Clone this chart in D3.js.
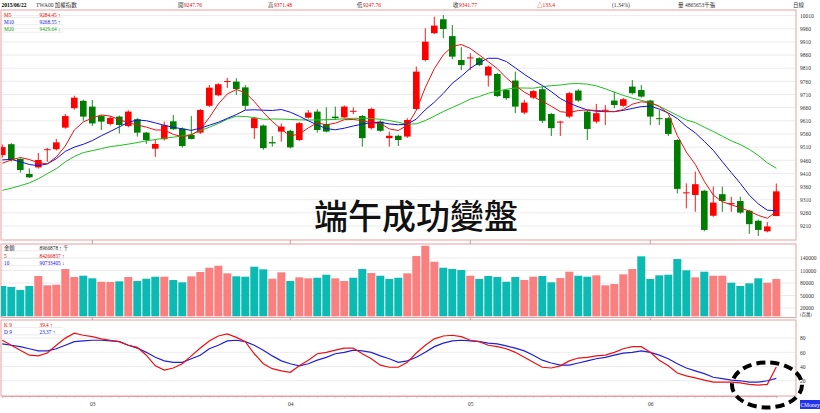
<!DOCTYPE html>
<html><head><meta charset="utf-8">
<script src="https://cdn.jsdelivr.net/npm/d3@7"></script>
<style>
body{margin:0;background:#fff}
svg{display:block}
text{font-family:"Liberation Serif","Noto Sans CJK TC",serif}
</style>
</head><body>
<svg id="c" width="820" height="413"></svg>
<script>
// ---------- DATA ----------
const opens=[9480,9521,9465,9408,9433,9500,9502,9584,9658,9686,9664,9628,9598,9626,9590,9616,9565,9504,9540,9608,9580,9556,9565,9667,9707,9760,9759,9737,9582,9592,9529,9569,9572,9537,9622,9645,9598,9626,9623,9647,9628,9582,9607,9544,9553,9550,9655,9841,9943,9996,9932,9841,9850,9848,9782,9788,9727,9763,9641,9698,9730,9636,9605,9626,9725,9645,9607,9651,9687,9667,9740,9727,9687,9620,9620,9537,9336,9328,9344,9249,9331,9296,9305,9268,9230,9190,9247.76];
const highs=[9520,9525,9468,9429,9488,9507,9541,9636,9705,9690,9689,9632,9628,9630,9650,9620,9568,9537,9607,9632,9585,9628,9655,9746,9753,9773,9772,9746,9625,9596,9552,9600,9576,9605,9651,9654,9661,9664,9668,9661,9632,9660,9612,9569,9557,9620,9816,9962,10006,10012,9974,9890,9867,9852,9820,9792,9731,9797,9690,9727,9740,9640,9610,9720,9730,9650,9674,9670,9721,9697,9765,9746,9690,9651,9624,9540,9372,9417,9348,9360,9360,9321,9321,9272,9234,9225,9371.48];
const lows=[9470,9455,9413,9393,9428,9454,9497,9580,9652,9610,9590,9575,9592,9562,9585,9550,9522,9473,9535,9575,9508,9539,9560,9663,9703,9735,9708,9651,9541,9500,9512,9531,9505,9533,9618,9565,9566,9613,9619,9635,9512,9577,9568,9512,9514,9545,9650,9836,9940,9924,9844,9803,9803,9818,9740,9700,9690,9639,9635,9693,9601,9552,9552,9620,9682,9537,9600,9594,9658,9663,9710,9698,9594,9594,9552,9334,9277,9264,9190,9245,9264,9264,9256,9180,9172,9186,9247.76];
const closes=[9510,9461,9423,9395,9461,9502,9528,9628,9698,9626,9600,9607,9621,9594,9645,9565,9537,9522,9593,9578,9514,9541,9651,9736,9749,9761,9731,9667,9620,9506,9524,9588,9509,9601,9641,9575,9569,9620,9664,9648,9544,9655,9572,9553,9537,9613,9797,9911,9972,9959,9854,9822,9851,9822,9816,9704,9696,9664,9679,9723,9610,9582,9607,9715,9687,9579,9639,9652,9670,9692,9715,9702,9626,9619,9560,9351,9338,9369,9195,9299,9305,9297,9261,9217,9195,9208.37,9341.77];
const prevClose0=9530;
const ma5=[9448.8,9461,9470.5,9462.9,9450.3,9446.5,9472.4,9514.2,9575.1,9605.5,9620.7,9632.1,9627.9,9614.2,9602.8,9594.1,9586.1,9575.1,9575.1,9558.3,9549.6,9555.7,9577,9622.2,9673.9,9711.9,9729,9717.2,9683.4,9642.3,9607.4,9577.7,9552.6,9559.5,9583,9602.4,9594.8,9600.9,9614.2,9615,9610.8,9602.4,9599.8,9579.2,9573.2,9592.9,9649.6,9736.6,9808.1,9860.6,9892.9,9900.1,9885.3,9860.2,9834.7,9808.5,9773.1,9744.2,9718.8,9700.9,9684.5,9665.5,9644.6,9641.2,9649.2,9651.1,9649.6,9646.5,9644.6,9653,9673.1,9682.3,9678.8,9664.8,9637.4,9553.8,9491.4,9444.3,9380,9327.5,9302.4,9290.7,9279.3,9266.3,9250.4,9239.3,9265];
const ma10=[9461.4,9463.3,9454.1,9443.9,9439.3,9446.2,9465.9,9493.7,9510,9520.7,9534.7,9553,9569.7,9586.8,9604.3,9613.1,9610.4,9602,9592.9,9584.9,9579.6,9573.5,9581.9,9593.3,9604.3,9619.2,9633.6,9650.7,9651.9,9650.3,9649.2,9653,9642.7,9627.5,9610,9594.4,9580.4,9575.8,9581.9,9590.3,9597.5,9602.8,9604.3,9598.2,9594.8,9597.5,9616.5,9651.9,9680.7,9714.2,9752.6,9779.2,9809.6,9832.1,9847.7,9847.7,9835.5,9811.5,9786.8,9764.4,9744.2,9721,9694.8,9676.9,9663.3,9651.1,9646.5,9644.6,9645,9649.6,9656.8,9664,9665.9,9654.5,9639.7,9618.8,9588.7,9564,9531.7,9497.9,9454.5,9413.1,9372,9327.2,9294.1,9270.1,9268.55];
const ma20=[9345.4,9353.8,9363.3,9373.9,9389.1,9409.3,9427.9,9453.8,9474.3,9489.1,9496.4,9504,9511.9,9516.1,9521.4,9527.1,9534,9538.6,9543.9,9547.7,9552.2,9558.3,9572.8,9585.3,9599.8,9616.1,9627.5,9626.4,9622.2,9615.7,9616.9,9616.5,9615,9613.8,9613.1,9613.1,9614.2,9615.4,9617.6,9619.5,9619.5,9618.8,9615.7,9611.2,9604.3,9596.7,9598.6,9610.8,9627.5,9645.4,9660.6,9675.8,9692.5,9702.4,9714.6,9722.6,9729.8,9734.7,9734.7,9734,9739.3,9743.5,9746.1,9750.7,9751.5,9749.6,9742.7,9731.7,9718.8,9706.6,9696.3,9688,9679.2,9665.5,9648.1,9630.9,9613.4,9603.2,9585.7,9569.3,9551.5,9534,9519.5,9501.3,9478.1,9450.3,9429.64];
const volumes=[72720,70320,63120,72720,96720,74400,75840,113520,94320,97440,91200,83040,82320,84000,94320,84720,90240,95040,95040,87120,81600,96000,106320,116640,121440,103200,96000,95040,119040,112800,90240,105600,84720,93600,91200,92640,99840,91200,84720,92640,113520,103920,97440,89520,92640,103200,144720,169440,131040,116640,113520,111120,97440,89520,96720,94320,83040,94320,87120,95040,96720,81600,91920,107040,97440,95040,98400,74400,77520,100800,113520,144000,89520,98400,99840,137520,110400,93600,107040,97440,97440,80640,72720,79200,91200,80640,89669];
const kValues=[77,70,63,56,55,59,70,80,87,84,82,79,77,75,70,67,56,41,35,38,44,55,66,76,83,86,81,75,58,44,37,34,32,41,49,58,60,63,66,66,58,51,42,39,39,46,59,70,79,83,84,82,77,75,70,68,65,60,53,46,39,38,41,48,52,53,55,56,60,65,68,68,60,49,41,31,27,24,21,18,18,18,17,15,14,15,39.4];
const dValues=[72,70,68,65,62,62,65,70,75,76,77,77,76,75,70,66,60,53,48,46,46,51,56,65,70,76,77,75,70,63,55,48,44,41,44,49,53,58,60,63,62,60,55,51,46,48,53,60,68,73,76,77,76,75,73,72,69,66,62,56,49,45,42,42,45,48,51,53,56,59,60,62,60,56,51,44,38,34,30,25,23,21,20,18,18,20,23.37];
const priceTicks=[10010,9960,9910,9860,9810,9760,9710,9660,9610,9560,9510,9460,9410,9360,9310,9260,9210];
const volumeTicks=[140000,110000,80000,50000,20000];
const kdTicks=[80,60,40,20];
const monthLabels=["03","04","05","06"];
const monthStarts=[10,32,52,72];

// ---------- DRAW ----------
const svg=d3.select("#c");
const L=1,R=796;
const border="#e8a0a0", grid="#e6e6e6";
const RED="#ff0000", GRN="#007d00";
const VRED="#fa7f7f", VTEAL="#0bbab2";
const n=closes.length;
const x=d3.scaleLinear().domain([0,n-1]).range([2.3,776.3]);
const yP=d3.scaleLinear().domain([9210,10010]).range([226,15.6]);
const yV=d3.scaleLinear().domain([0,140000]).range([316.3,258]);
const yK=d3.scaleLinear().domain([0,100]).range([395,323.9]);

const defs=svg.append("defs");
function clip(id,y0,y1){defs.append("clipPath").attr("id",id).append("rect").attr("x",L).attr("y",y0).attr("width",R-L).attr("height",y1-y0);}
clip("cp",10,240);clip("cv",244,317.5);clip("ck",320,396);

function panel(y0,y1,ticks,scale,fmt){
  const g=svg.append("g");
  g.selectAll("line.g").data(ticks).enter().append("line")
   .attr("x1",L).attr("x2",R).attr("y1",d=>scale(d)).attr("y2",d=>scale(d))
   .attr("stroke",grid).attr("stroke-width",0.8);
  g.append("rect").attr("x",L).attr("y",y0).attr("width",R-L).attr("height",y1-y0)
   .attr("fill","none").attr("stroke",border).attr("stroke-width",1);
  const ax=svg.append("g").attr("transform",`translate(${R},0)`)
   .call(d3.axisRight(scale).tickValues(ticks).tickSize(0).tickPadding(4).tickFormat(fmt||(d=>d)));
  ax.select(".domain").remove();
  ax.selectAll("text").attr("font-size",5.5).attr("fill","#333").attr("font-family","Liberation Serif, serif");
}
panel(10,240,priceTicks,yP);
panel(244,317.5,volumeTicks,yV);
panel(320,396,kdTicks,yK);

// candles
const gc=svg.append("g").attr("clip-path","url(#cp)");
const idx=d3.range(n);
gc.selectAll("line.w").data(idx).enter().append("line")
 .attr("x1",i=>x(i)).attr("x2",i=>x(i)).attr("y1",i=>yP(highs[i])).attr("y2",i=>yP(lows[i]))
 .attr("stroke",i=>closes[i]>=opens[i]?RED:GRN).attr("stroke-width",0.9);
gc.selectAll("rect.b").data(idx).enter().append("rect")
 .attr("x",i=>x(i)-3.3).attr("width",6.6)
 .attr("y",i=>yP(Math.max(opens[i],closes[i])))
 .attr("height",i=>Math.max(1,Math.abs(yP(opens[i])-yP(closes[i]))))
 .attr("fill",i=>closes[i]>=opens[i]?RED:GRN);
const line=d3.line().x((d,i)=>x(i)).y(d=>yP(d));
[[ma20,"#1fbf1f"],[ma10,"#1010e0"],[ma5,"#ee1010"]].forEach(([a,c])=>{
  gc.append("path").datum(a).attr("d",line).attr("fill","none").attr("stroke",c).attr("stroke-width",1);
});

// volume
const gv=svg.append("g").attr("clip-path","url(#cv)");
gv.selectAll("rect").data(volumes).enter().append("rect")
 .attr("x",(d,i)=>x(i)-4).attr("width",8).attr("y",d=>yV(d)).attr("height",d=>yV(0)-yV(d))
 .attr("fill",(d,i)=>closes[i]>=(i?closes[i-1]:prevClose0)?VRED:VTEAL);
svg.append("text").attr("x",800).attr("y",315.5).attr("font-size",4.5).attr("fill","#333").text("(百萬)");

// KD
const gk=svg.append("g").attr("clip-path","url(#ck)");
const kl=d3.line().x((d,i)=>x(i)).y(d=>yK(d));
gk.append("path").datum(dValues).attr("d",kl).attr("fill","none").attr("stroke","#2020d8").attr("stroke-width",1.2);
gk.append("path").datum(kValues).attr("d",kl).attr("fill","none").attr("stroke","#ee1010").attr("stroke-width",1.2);

// x axis
const xa=svg.append("g").attr("transform","translate(0,396)")
 .call(d3.axisBottom(x).tickValues(idx).tickSize(1.6).tickFormat(""));
xa.select(".domain").attr("stroke",border);
xa.selectAll("line").attr("stroke",border);
const xm=svg.append("g").attr("transform","translate(0,396)")
 .call(d3.axisBottom(x).tickValues(monthStarts).tickSize(0).tickPadding(6).tickFormat((d,i)=>monthLabels[i]));
xm.select(".domain").remove();
xm.selectAll("text").attr("font-size",5.5).attr("fill","#333").attr("font-family","Liberation Serif, serif");
svg.selectAll("line.mm").data(monthStarts).enter().append("line")
 .attr("x1",d=>x(d)).attr("x2",d=>x(d)).attr("y1",240).attr("y2",244).attr("stroke","#c99");
svg.selectAll("line.mk").data(monthStarts).enter().append("line")
 .attr("x1",d=>x(d)).attr("x2",d=>x(d)).attr("y1",317.5).attr("y2",320).attr("stroke","#c99");

// header
const hdr=[[1.5,"2015/06/22","#000",true],[36,"TWA00 加權指數","#333"],[178,"開 ","#333"],[268,"高 ","#333"],[357,"低 ","#333"],[453,"收 ","#333"],[678,"量 4865653千張","#333"],[793,"日線","#333"]];
hdr.forEach(([hx,t,c,b])=>{svg.append("text").attr("x",hx).attr("y",6.6).attr("font-size",5.5).attr("fill",c).attr("font-weight",b?"bold":null).text(t);});
[[184,"9247.76"],[274,"9371.48"],[363,"9247.76"],[459,"9341.77"],[537,"△133.4"]].forEach(([hx,t])=>{
  svg.append("text").attr("x",hx).attr("y",6.6).attr("font-size",5.5).attr("fill","#e00").text(t);});
svg.append("text").attr("x",612).attr("y",6.6).attr("font-size",5.5).attr("fill","#333").text("(1.34%)");

// legends
function legend(rows,y0){
  rows.forEach(([a,b,c],k)=>{
    const yy=y0+k*7.4;
    svg.append("line").attr("x1",2).attr("x2",63).attr("y1",yy+2.4).attr("y2",yy+2.4).attr("stroke","#ddd").attr("stroke-width",0.6);
    svg.append("text").attr("x",4).attr("y",yy+1.6).attr("font-size",5.3).attr("fill",c).text(a);
    svg.append("text").attr("x",39.5).attr("y",yy+1.6).attr("font-size",5.3).attr("fill",c).text(b);
  });
}
legend([["M5","9284.45 ↑","#e00"],["M10","9268.55 ↑","#11d"],["M20","9429.64 ↓","#1a1"]],15);
legend([["金額","8966878 ↑ 千","#222"],["5","84266857 ↑","#e00"],["10","90733405 ↓","#11d"]],248.5);
legend([["K 9","39.4 ↑","#e00"],["D 9","23.37 ↑","#11d"]],325);

// title
svg.append("text").attr("x",416).attr("y",229).attr("text-anchor","middle")
 .attr("font-family","Noto Sans CJK TC, sans-serif").attr("font-weight",500).attr("font-size",34).attr("fill","#111").text("端午成功變盤");

// dashed ellipse
svg.append("ellipse").attr("cx",767).attr("cy",385).attr("rx",35).attr("ry",22.5)
 .attr("fill","none").attr("stroke","#000").attr("stroke-width",4).attr("stroke-dasharray","9,5");

// badge
svg.append("rect").attr("x",800).attr("y",400).attr("width",20).attr("height",9).attr("fill","#2233ee");
svg.append("text").attr("x",810).attr("y",407).attr("text-anchor","middle").attr("font-size",5.5).attr("fill","#fff").attr("font-family","Liberation Sans, sans-serif").text("CMoney");
</script>
</body></html>
